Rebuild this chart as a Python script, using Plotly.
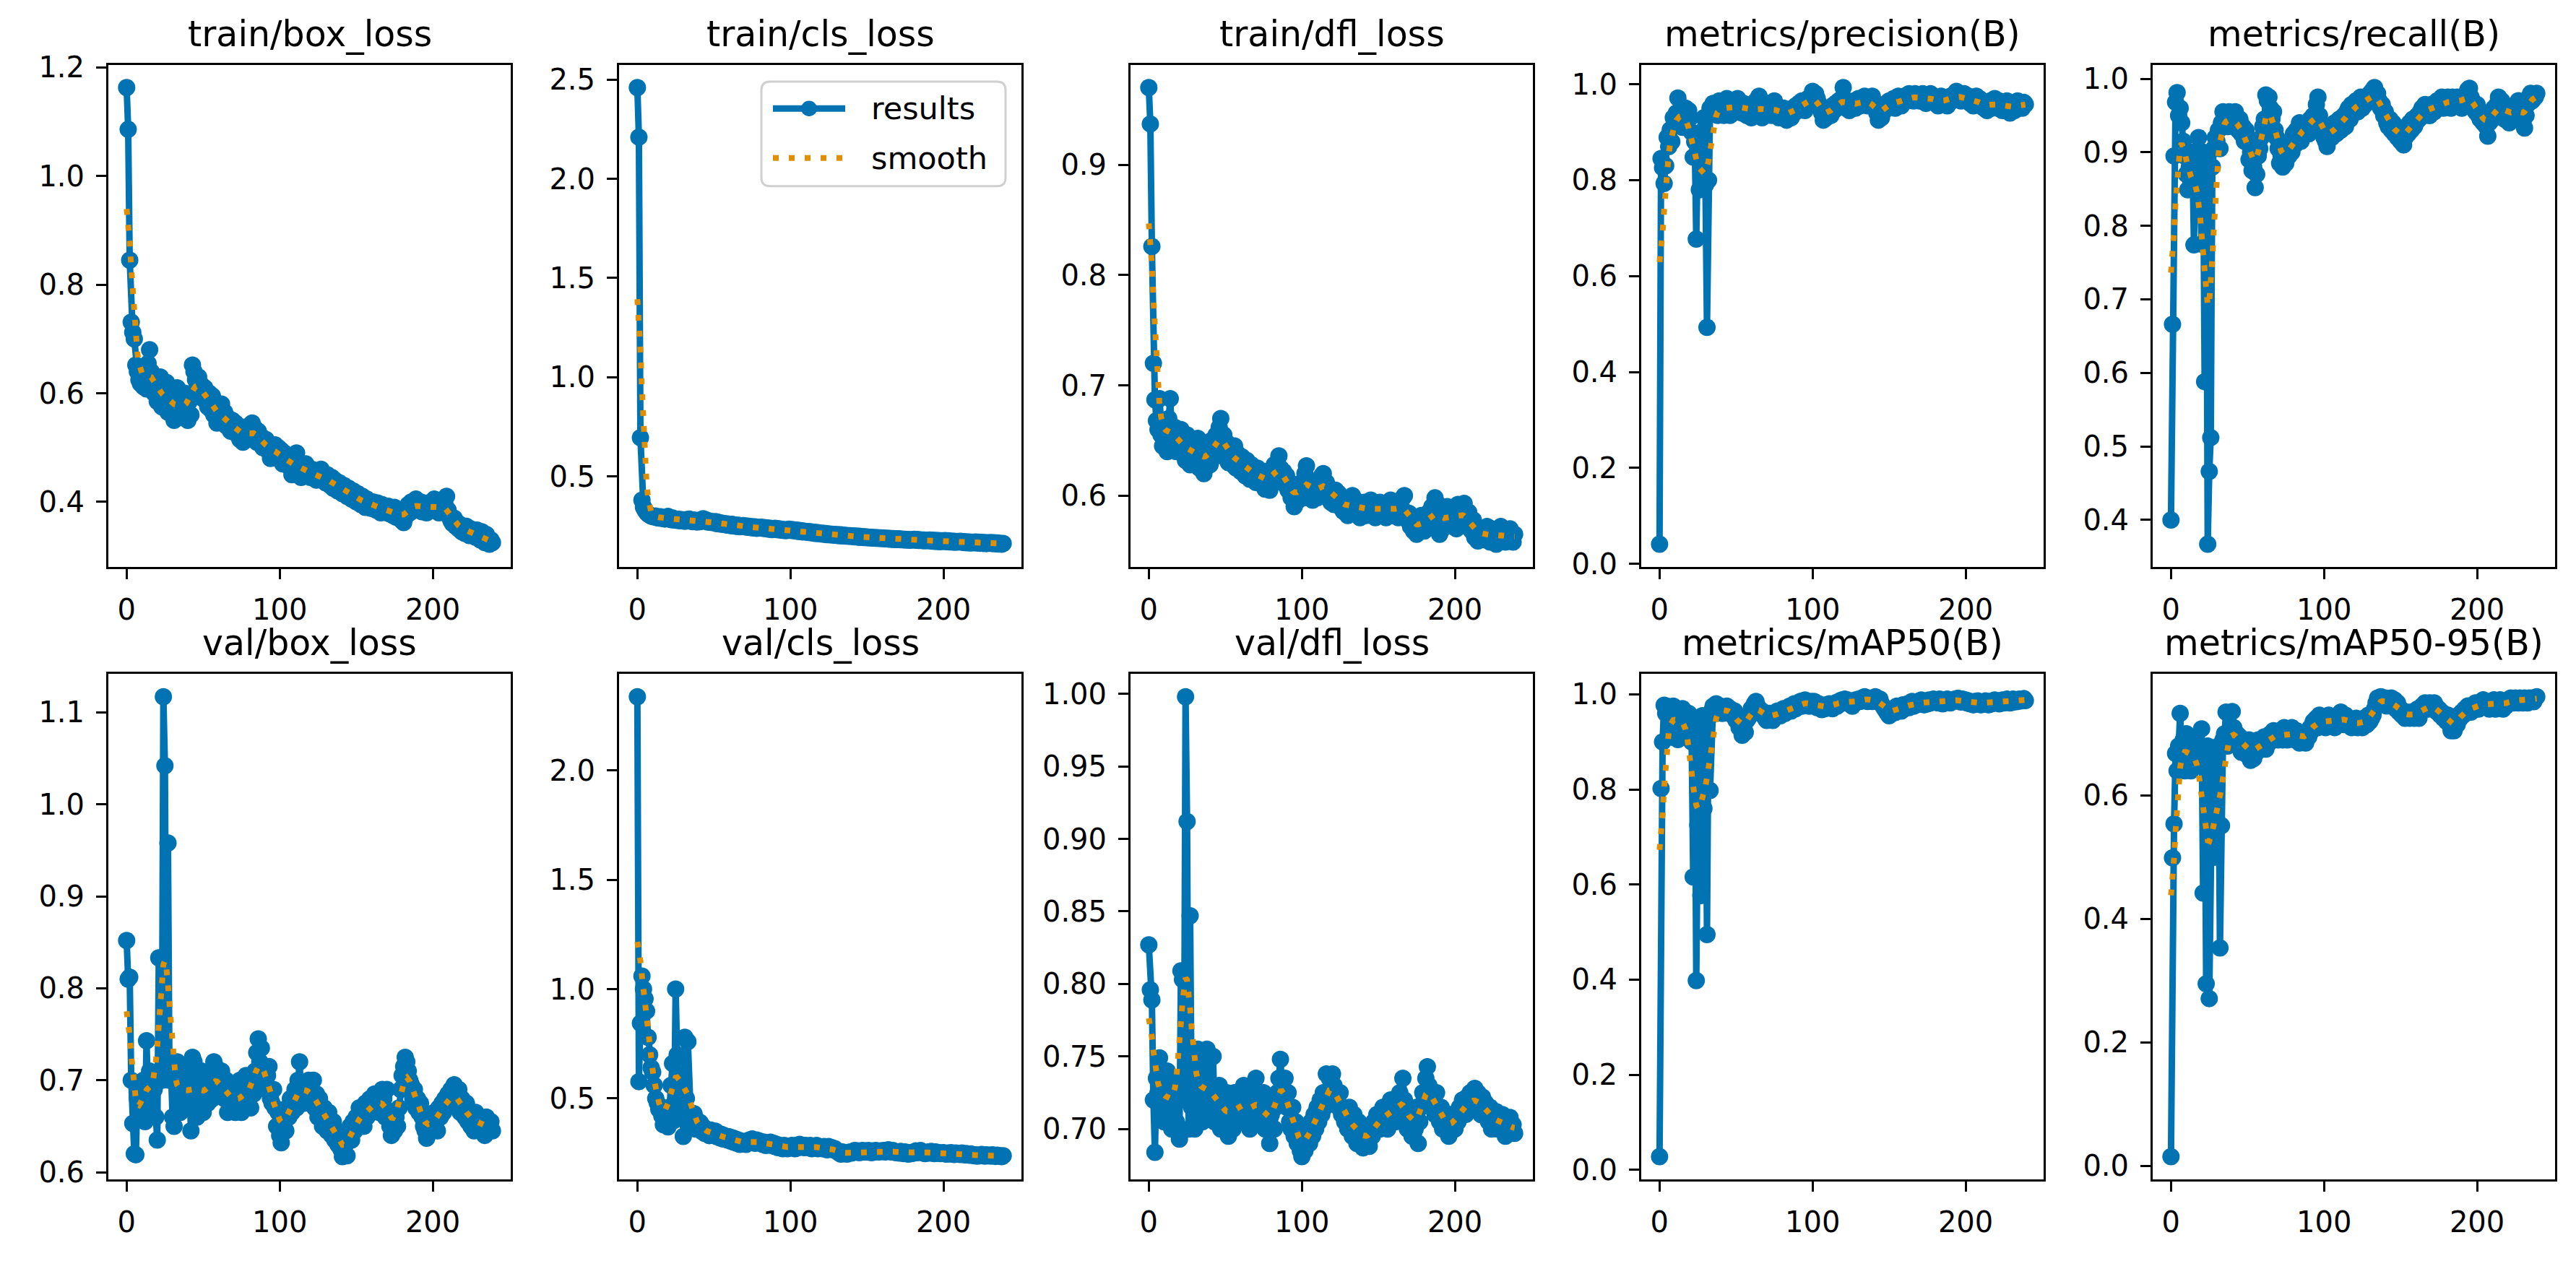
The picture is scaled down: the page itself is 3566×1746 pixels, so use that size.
import numpy as np
import plotly.graph_objects as go

# epochs on the x axis
epochs = list(range(240))

titles = [
    "train/box_loss", "train/cls_loss", "train/dfl_loss", "metrics/precision(B)", "metrics/recall(B)",
    "val/box_loss", "val/cls_loss", "val/dfl_loss", "metrics/mAP50(B)", "metrics/mAP50-95(B)",
]

train_box_loss = [
    1.163, 1.086, 0.845, 0.731, 0.712, 0.700, 0.652, 0.640, 0.625, 0.618,
    0.640, 0.612, 0.632, 0.608, 0.655, 0.680, 0.640, 0.625, 0.600, 0.620,
    0.585, 0.610, 0.630, 0.575, 0.600, 0.580, 0.620, 0.565, 0.605, 0.590,
    0.560, 0.550, 0.585, 0.610, 0.575, 0.565, 0.590, 0.555, 0.600, 0.572,
    0.550, 0.585, 0.560, 0.652, 0.640, 0.625, 0.610, 0.630, 0.600, 0.615,
    0.590, 0.610, 0.585, 0.575, 0.600, 0.570, 0.595, 0.560, 0.575, 0.545,
    0.570, 0.548, 0.580, 0.555, 0.565, 0.540, 0.555, 0.545, 0.530, 0.550,
    0.535, 0.545, 0.525, 0.540, 0.515, 0.530, 0.510, 0.525, 0.535, 0.515,
    0.540, 0.525, 0.545, 0.520, 0.535, 0.510, 0.530, 0.515, 0.520, 0.500,
    0.505, 0.515, 0.495, 0.505, 0.480, 0.500, 0.490, 0.505, 0.485, 0.500,
    0.480, 0.495, 0.470, 0.490, 0.470, 0.485, 0.465, 0.480, 0.450, 0.475,
    0.460, 0.490, 0.465, 0.470, 0.445, 0.465, 0.455, 0.470, 0.450, 0.460,
    0.445, 0.460, 0.450, 0.455, 0.440, 0.455, 0.445, 0.460, 0.440, 0.450,
    0.435, 0.450, 0.440, 0.430, 0.445, 0.425, 0.440, 0.430, 0.420, 0.435,
    0.425, 0.415, 0.430, 0.420, 0.410, 0.425, 0.415, 0.405, 0.420, 0.410,
    0.400, 0.415, 0.405, 0.395, 0.410, 0.400, 0.390, 0.405, 0.395, 0.400,
    0.388, 0.400, 0.392, 0.385, 0.398, 0.390, 0.380, 0.395, 0.385, 0.392,
    0.380, 0.392, 0.378, 0.385, 0.375, 0.390, 0.372, 0.385, 0.370, 0.380,
    0.365, 0.362, 0.372, 0.385, 0.395, 0.380, 0.400, 0.392, 0.385, 0.405,
    0.395, 0.388, 0.400, 0.382, 0.398, 0.390, 0.380, 0.395, 0.385, 0.400,
    0.390, 0.405, 0.385, 0.395, 0.380, 0.392, 0.385, 0.400, 0.395, 0.410,
    0.385, 0.372, 0.365, 0.360, 0.370, 0.355, 0.362, 0.350, 0.358, 0.345,
    0.352, 0.342, 0.355, 0.345, 0.338, 0.350, 0.340, 0.345, 0.335, 0.348,
    0.338, 0.330, 0.345, 0.335, 0.325, 0.340, 0.328, 0.322, 0.330, 0.325,
]

train_cls_loss = [
    2.460, 2.210, 0.695, 0.380, 0.345, 0.330, 0.318, 0.310, 0.305, 0.300,
    0.298, 0.295, 0.300, 0.292, 0.290, 0.296, 0.288, 0.292, 0.285, 0.290,
    0.298, 0.286, 0.282, 0.290, 0.280, 0.285, 0.278, 0.284, 0.276, 0.282,
    0.280, 0.274, 0.282, 0.276, 0.285, 0.278, 0.272, 0.280, 0.275, 0.270,
    0.278, 0.272, 0.282, 0.286, 0.276, 0.280, 0.270, 0.275, 0.268, 0.272,
    0.266, 0.272, 0.262, 0.268, 0.260, 0.265, 0.258, 0.262, 0.255, 0.260,
    0.256, 0.252, 0.258, 0.250, 0.255, 0.248, 0.254, 0.246, 0.250, 0.252,
    0.246, 0.250, 0.244, 0.248, 0.242, 0.246, 0.240, 0.245, 0.238, 0.243,
    0.240, 0.244, 0.238, 0.242, 0.236, 0.240, 0.234, 0.238, 0.232, 0.236,
    0.238, 0.232, 0.236, 0.230, 0.234, 0.228, 0.232, 0.226, 0.230, 0.234,
    0.228, 0.232, 0.226, 0.230, 0.224, 0.228, 0.222, 0.226, 0.220, 0.224,
    0.222, 0.218, 0.222, 0.216, 0.220, 0.214, 0.218, 0.212, 0.216, 0.213,
    0.210, 0.214, 0.208, 0.212, 0.206, 0.210, 0.205, 0.208, 0.204, 0.207,
    0.203, 0.206, 0.201, 0.205, 0.200, 0.204, 0.199, 0.202, 0.198, 0.201,
    0.197, 0.200, 0.195, 0.199, 0.194, 0.198, 0.193, 0.196, 0.192, 0.195,
    0.191, 0.194, 0.190, 0.193, 0.189, 0.192, 0.188, 0.191, 0.187, 0.190,
    0.186, 0.189, 0.185, 0.188, 0.184, 0.187, 0.183, 0.186, 0.182, 0.185,
    0.182, 0.185, 0.181, 0.184, 0.180, 0.183, 0.179, 0.182, 0.178, 0.181,
    0.180, 0.183, 0.178, 0.182, 0.177, 0.180, 0.176, 0.179, 0.175, 0.178,
    0.176, 0.179, 0.174, 0.178, 0.173, 0.177, 0.172, 0.176, 0.171, 0.175,
    0.173, 0.176, 0.171, 0.175, 0.170, 0.174, 0.169, 0.173, 0.168, 0.172,
    0.170, 0.173, 0.168, 0.171, 0.166, 0.170, 0.165, 0.169, 0.164, 0.168,
    0.166, 0.169, 0.164, 0.168, 0.163, 0.167, 0.162, 0.166, 0.161, 0.165,
    0.163, 0.166, 0.161, 0.165, 0.160, 0.164, 0.159, 0.163, 0.158, 0.162,
]

train_dfl_loss = [
    0.970, 0.937, 0.826, 0.720, 0.687, 0.668, 0.660, 0.688, 0.655, 0.645,
    0.662, 0.650, 0.640, 0.670, 0.688, 0.655, 0.648, 0.662, 0.640, 0.652,
    0.645, 0.660, 0.638, 0.650, 0.632, 0.655, 0.642, 0.628, 0.648, 0.636,
    0.645, 0.630, 0.652, 0.625, 0.640, 0.635, 0.620, 0.645, 0.630, 0.642,
    0.628, 0.650, 0.640, 0.635, 0.655, 0.648, 0.662, 0.670, 0.645, 0.655,
    0.640, 0.648, 0.630, 0.642, 0.636, 0.628, 0.645, 0.625, 0.638, 0.630,
    0.622, 0.635, 0.628, 0.618, 0.632, 0.622, 0.615, 0.628, 0.618, 0.625,
    0.612, 0.625, 0.615, 0.620, 0.610, 0.622, 0.606, 0.618, 0.612, 0.605,
    0.622, 0.612, 0.628, 0.618, 0.630, 0.636, 0.625, 0.615, 0.622, 0.610,
    0.618, 0.605, 0.612, 0.598, 0.608, 0.590, 0.602, 0.595, 0.610, 0.600,
    0.612, 0.598, 0.620, 0.627, 0.615, 0.602, 0.610, 0.596, 0.605, 0.600,
    0.598, 0.612, 0.604, 0.618, 0.620, 0.608, 0.612, 0.600, 0.606, 0.594,
    0.600, 0.592, 0.605, 0.596, 0.602, 0.590, 0.598, 0.586, 0.595, 0.590,
    0.582, 0.596, 0.588, 0.600, 0.590, 0.585, 0.595, 0.588, 0.580, 0.592,
    0.586, 0.594, 0.582, 0.590, 0.584, 0.596, 0.586, 0.590, 0.580, 0.592,
    0.585, 0.594, 0.582, 0.590, 0.586, 0.580, 0.592, 0.584, 0.596, 0.588,
    0.582, 0.592, 0.586, 0.580, 0.594, 0.588, 0.598, 0.600, 0.585, 0.578,
    0.584, 0.572, 0.580, 0.568, 0.578, 0.565, 0.575, 0.570, 0.582, 0.574,
    0.568, 0.580, 0.572, 0.585, 0.575, 0.590, 0.580, 0.598, 0.585, 0.592,
    0.565, 0.578, 0.570, 0.585, 0.576, 0.590, 0.582, 0.575, 0.588, 0.572,
    0.585, 0.570, 0.592, 0.578, 0.588, 0.582, 0.593, 0.580, 0.572, 0.585,
    0.575, 0.568, 0.578, 0.562, 0.572, 0.559, 0.568, 0.562, 0.570, 0.565,
    0.560, 0.572, 0.564, 0.558, 0.570, 0.562, 0.567, 0.556, 0.566, 0.560,
    0.572, 0.562, 0.568, 0.558, 0.566, 0.560, 0.570, 0.562, 0.558, 0.565,
]

precision = [
    0.041, 0.845, 0.826, 0.793, 0.830, 0.889, 0.870, 0.905, 0.880, 0.930,
    0.915, 0.940, 0.971, 0.925, 0.945, 0.910, 0.935, 0.950, 0.920, 0.945,
    0.930, 0.900, 0.848, 0.880, 0.677, 0.860, 0.780, 0.900, 0.820, 0.930,
    0.790, 0.493, 0.800, 0.950, 0.945, 0.960, 0.940, 0.955, 0.935, 0.965,
    0.945, 0.950, 0.935, 0.960, 0.970, 0.945, 0.935, 0.955, 0.940, 0.950,
    0.965, 0.970, 0.945, 0.955, 0.940, 0.960, 0.950, 0.935, 0.955, 0.945,
    0.930, 0.950, 0.940, 0.965, 0.935, 0.975, 0.945, 0.930, 0.955, 0.940,
    0.950, 0.960, 0.945, 0.935, 0.955, 0.965, 0.940, 0.950, 0.930, 0.945,
    0.935, 0.950, 0.940, 0.925, 0.945, 0.935, 0.930, 0.950, 0.940, 0.955,
    0.945, 0.960, 0.950, 0.965, 0.955, 0.945, 0.960, 0.970, 0.965, 0.975,
    0.985, 0.975, 0.980, 0.970, 0.960, 0.950, 0.940, 0.925, 0.935, 0.930,
    0.940, 0.950, 0.935, 0.955, 0.945, 0.960, 0.950, 0.965, 0.955, 0.970,
    0.993, 0.960, 0.950, 0.965, 0.945, 0.960, 0.955, 0.965, 0.950, 0.960,
    0.970, 0.955, 0.965, 0.960, 0.975, 0.965, 0.955, 0.970, 0.960, 0.975,
    0.960, 0.950, 0.940, 0.925, 0.935, 0.930, 0.950, 0.945, 0.960, 0.955,
    0.965, 0.955, 0.960, 0.970, 0.950, 0.965, 0.975, 0.960, 0.955, 0.965,
    0.975, 0.965, 0.970, 0.980, 0.970, 0.975, 0.965, 0.980, 0.970, 0.975,
    0.965, 0.975, 0.980, 0.970, 0.960, 0.975, 0.970, 0.980, 0.965, 0.975,
    0.960, 0.970, 0.955, 0.965, 0.975, 0.960, 0.970, 0.965, 0.955, 0.970,
    0.975, 0.965, 0.970, 0.980, 0.985, 0.975, 0.970, 0.965, 0.975, 0.980,
    0.970, 0.965, 0.975, 0.960, 0.970, 0.955, 0.965, 0.975, 0.960, 0.970,
    0.955, 0.965, 0.950, 0.960, 0.945, 0.955, 0.965, 0.950, 0.960, 0.970,
    0.960, 0.950, 0.965, 0.955, 0.945, 0.960, 0.950, 0.965, 0.955, 0.940,
    0.950, 0.960, 0.945, 0.955, 0.965, 0.955, 0.960, 0.950, 0.962, 0.958,
]

recall = [
    0.400, 0.666, 0.895, 0.968, 0.981, 0.950, 0.960, 0.940, 0.915, 0.895,
    0.870, 0.849, 0.880, 0.860, 0.900, 0.774, 0.885, 0.850, 0.920, 0.870,
    0.775, 0.900, 0.588, 0.897, 0.367, 0.466, 0.512, 0.880, 0.905, 0.920,
    0.915, 0.930, 0.905, 0.940, 0.955, 0.945, 0.950, 0.935, 0.955, 0.940,
    0.950, 0.935, 0.955, 0.940, 0.930, 0.945, 0.925, 0.935, 0.915, 0.930,
    0.920, 0.890, 0.900, 0.875, 0.880, 0.852, 0.870, 0.895, 0.905, 0.920,
    0.935, 0.945, 0.978, 0.970, 0.975, 0.960, 0.945, 0.955, 0.930, 0.920,
    0.905, 0.885, 0.895, 0.880, 0.900, 0.885, 0.905, 0.895, 0.915, 0.900,
    0.925, 0.910, 0.930, 0.920, 0.940, 0.915, 0.935, 0.925, 0.930, 0.940,
    0.925, 0.945, 0.935, 0.950, 0.940, 0.965, 0.975, 0.950, 0.940, 0.930,
    0.920, 0.915, 0.908, 0.925, 0.935, 0.920, 0.930, 0.940, 0.925, 0.935,
    0.945, 0.930, 0.940, 0.950, 0.935, 0.955, 0.960, 0.945, 0.965, 0.955,
    0.960, 0.970, 0.955, 0.965, 0.975, 0.960, 0.970, 0.965, 0.975, 0.970,
    0.980, 0.975, 0.985, 0.988, 0.975, 0.980, 0.970, 0.960, 0.965, 0.950,
    0.955, 0.940, 0.935, 0.945, 0.930, 0.940, 0.925, 0.935, 0.920, 0.930,
    0.915, 0.925, 0.910, 0.920, 0.935, 0.925, 0.940, 0.930, 0.945, 0.935,
    0.940, 0.950, 0.945, 0.955, 0.960, 0.950, 0.965, 0.955, 0.960, 0.950,
    0.965, 0.960, 0.955, 0.965, 0.970, 0.960, 0.965, 0.975, 0.960, 0.970,
    0.965, 0.975, 0.970, 0.960, 0.975, 0.965, 0.970, 0.975, 0.965, 0.970,
    0.960, 0.975, 0.965, 0.980, 0.985, 0.987, 0.975, 0.970, 0.960, 0.955,
    0.965, 0.950, 0.945, 0.955, 0.940, 0.950, 0.935, 0.922, 0.940, 0.950,
    0.945, 0.960, 0.955, 0.965, 0.975, 0.960, 0.970, 0.955, 0.945, 0.960,
    0.950, 0.940, 0.955, 0.960, 0.950, 0.965, 0.955, 0.970, 0.960, 0.945,
    0.940, 0.933, 0.950, 0.965, 0.975, 0.980, 0.970, 0.978, 0.975, 0.980,
]

val_box_loss = [
    0.852, 0.810, 0.812, 0.700, 0.653, 0.620, 0.619, 0.680, 0.662, 0.690,
    0.670, 0.700, 0.655, 0.743, 0.680, 0.710, 0.670, 0.700, 0.690, 0.660,
    0.635, 0.833, 0.700, 0.700, 1.117, 1.042, 0.715, 0.958, 0.700, 0.710,
    0.660, 0.650, 0.700, 0.720, 0.690, 0.665, 0.700, 0.680, 0.710, 0.690,
    0.670, 0.700, 0.645, 0.725, 0.720, 0.690, 0.660, 0.700, 0.680, 0.710,
    0.665, 0.690, 0.700, 0.675, 0.690, 0.710, 0.680, 0.720, 0.715, 0.690,
    0.700, 0.685, 0.710, 0.695, 0.680, 0.700, 0.665, 0.685, 0.690, 0.670,
    0.680, 0.665, 0.690, 0.670, 0.700, 0.665, 0.685, 0.675, 0.705, 0.680,
    0.690, 0.670, 0.700, 0.685, 0.710, 0.730, 0.745, 0.720, 0.735, 0.700,
    0.710, 0.690, 0.705, 0.715, 0.680, 0.675, 0.690, 0.670, 0.650, 0.665,
    0.640, 0.632, 0.655, 0.660, 0.645, 0.670, 0.660, 0.680, 0.665, 0.675,
    0.690, 0.670, 0.700, 0.720, 0.685, 0.690, 0.675, 0.695, 0.680, 0.700,
    0.690, 0.680, 0.700, 0.670, 0.685, 0.660, 0.680, 0.665, 0.650, 0.670,
    0.660, 0.645, 0.665, 0.650, 0.640, 0.655, 0.635, 0.645, 0.630, 0.640,
    0.625, 0.617, 0.620, 0.630, 0.618, 0.640, 0.650, 0.635, 0.655, 0.645,
    0.660, 0.650, 0.670, 0.655, 0.665, 0.650, 0.675, 0.660, 0.670, 0.680,
    0.665, 0.675, 0.685, 0.670, 0.680, 0.665, 0.675, 0.690, 0.680, 0.660,
    0.690, 0.665, 0.650, 0.640, 0.655, 0.645, 0.660, 0.650, 0.670, 0.690,
    0.705, 0.715, 0.725, 0.720, 0.710, 0.700, 0.695, 0.680, 0.690, 0.670,
    0.680, 0.665, 0.675, 0.660, 0.650, 0.645, 0.637, 0.655, 0.645, 0.660,
    0.650, 0.665, 0.655, 0.645, 0.670, 0.660, 0.675, 0.665, 0.680, 0.670,
    0.685, 0.675, 0.690, 0.680, 0.695, 0.685, 0.675, 0.690, 0.665, 0.680,
    0.670, 0.660, 0.675, 0.655, 0.665, 0.650, 0.660, 0.645, 0.665, 0.655,
    0.660, 0.645, 0.655, 0.650, 0.640, 0.660, 0.650, 0.645, 0.655, 0.645,
]

val_cls_loss = [
    2.338, 0.577, 0.844, 1.060, 1.000, 0.956, 0.900, 0.780, 0.700, 0.640,
    0.620, 0.560, 0.500, 0.480, 0.450, 0.460, 0.420, 0.380, 0.440, 0.400,
    0.370, 0.460, 0.560, 0.660, 0.400, 1.000, 0.700, 0.520, 0.450, 0.600,
    0.326, 0.780, 0.500, 0.760, 0.420, 0.400, 0.380, 0.430, 0.360, 0.400,
    0.380, 0.390, 0.350, 0.370, 0.340, 0.360, 0.345, 0.330, 0.355, 0.340,
    0.330, 0.350, 0.325, 0.340, 0.320, 0.335, 0.315, 0.330, 0.320, 0.310,
    0.325, 0.305, 0.320, 0.300, 0.315, 0.295, 0.310, 0.290, 0.305, 0.295,
    0.300, 0.290, 0.305, 0.310, 0.300, 0.315, 0.305, 0.295, 0.310, 0.300,
    0.305, 0.295, 0.290, 0.300, 0.285, 0.295, 0.290, 0.300, 0.285, 0.295,
    0.280, 0.290, 0.275, 0.285, 0.280, 0.270, 0.285, 0.275, 0.270, 0.280,
    0.275, 0.285, 0.280, 0.270, 0.285, 0.275, 0.290, 0.280, 0.285, 0.275,
    0.285, 0.280, 0.275, 0.285, 0.270, 0.280, 0.275, 0.285, 0.270, 0.280,
    0.275, 0.270, 0.280, 0.275, 0.265, 0.280, 0.270, 0.275, 0.265, 0.270,
    0.260, 0.255, 0.250, 0.245, 0.255, 0.248, 0.252, 0.245, 0.250, 0.255,
    0.250, 0.258, 0.262, 0.255, 0.260, 0.252, 0.258, 0.262, 0.255, 0.260,
    0.255, 0.262, 0.258, 0.252, 0.260, 0.255, 0.262, 0.258, 0.255, 0.260,
    0.258, 0.262, 0.255, 0.260, 0.265, 0.258, 0.255, 0.262, 0.258, 0.252,
    0.255, 0.250, 0.258, 0.252, 0.248, 0.255, 0.250, 0.245, 0.252, 0.248,
    0.250, 0.255, 0.260, 0.252, 0.258, 0.262, 0.255, 0.250, 0.248, 0.252,
    0.255, 0.250, 0.258, 0.252, 0.248, 0.255, 0.250, 0.252, 0.248, 0.250,
    0.252, 0.248, 0.245, 0.250, 0.246, 0.252, 0.248, 0.244, 0.250, 0.246,
    0.248, 0.244, 0.250, 0.246, 0.242, 0.248, 0.244, 0.240, 0.246, 0.242,
    0.238, 0.242, 0.236, 0.240, 0.238, 0.244, 0.240, 0.236, 0.242, 0.238,
    0.240, 0.236, 0.242, 0.238, 0.235, 0.240, 0.236, 0.238, 0.234, 0.238,
]

val_dfl_loss = [
    0.827, 0.796, 0.789, 0.720, 0.684, 0.735, 0.725, 0.749, 0.715, 0.730,
    0.705, 0.725, 0.740, 0.710, 0.730, 0.700, 0.720, 0.735, 0.705, 0.725,
    0.693, 0.809, 0.803, 0.720, 0.998, 0.912, 0.700, 0.847, 0.715, 0.740,
    0.700, 0.730, 0.755, 0.715, 0.745, 0.705, 0.735, 0.720, 0.755, 0.710,
    0.730, 0.715, 0.750, 0.705, 0.725, 0.710, 0.730, 0.700, 0.720, 0.715,
    0.705, 0.725, 0.695, 0.720, 0.710, 0.700, 0.725, 0.715, 0.705, 0.720,
    0.725, 0.710, 0.730, 0.715, 0.705, 0.720, 0.700, 0.715, 0.710, 0.725,
    0.735, 0.715, 0.705, 0.720, 0.710, 0.725, 0.700, 0.715, 0.705, 0.690,
    0.710, 0.720, 0.700, 0.715, 0.725, 0.735, 0.748, 0.730, 0.720, 0.735,
    0.715, 0.725, 0.705, 0.700, 0.715, 0.695, 0.705, 0.690, 0.700, 0.685,
    0.681, 0.690, 0.685, 0.695, 0.700, 0.690, 0.705, 0.695, 0.710, 0.700,
    0.715, 0.705, 0.720, 0.710, 0.725, 0.715, 0.738, 0.725, 0.735, 0.720,
    0.738, 0.730, 0.725, 0.720, 0.715, 0.725, 0.710, 0.715, 0.705, 0.710,
    0.700, 0.715, 0.705, 0.695, 0.710, 0.700, 0.690, 0.705, 0.695, 0.700,
    0.687, 0.695, 0.700, 0.690, 0.688, 0.700, 0.695, 0.705, 0.700, 0.710,
    0.705, 0.700, 0.710, 0.715, 0.705, 0.710, 0.700, 0.715, 0.720, 0.710,
    0.715, 0.705, 0.720, 0.710, 0.725, 0.715, 0.735, 0.720, 0.710, 0.700,
    0.715, 0.705, 0.695, 0.710, 0.700, 0.715, 0.690, 0.705, 0.715, 0.725,
    0.720, 0.735, 0.743, 0.730, 0.725, 0.715, 0.720, 0.710, 0.725, 0.715,
    0.705, 0.715, 0.700, 0.710, 0.705, 0.700, 0.695, 0.710, 0.700, 0.705,
    0.700, 0.710, 0.705, 0.715, 0.710, 0.720, 0.715, 0.710, 0.722, 0.715,
    0.725, 0.715, 0.720, 0.728, 0.715, 0.725, 0.720, 0.710, 0.722, 0.712,
    0.718, 0.710, 0.705, 0.715, 0.700, 0.710, 0.705, 0.712, 0.700, 0.708,
    0.700, 0.710, 0.705, 0.695, 0.705, 0.700, 0.708, 0.698, 0.703, 0.697,
]

map50 = [
    0.028, 0.802, 0.900, 0.977, 0.960, 0.975, 0.930, 0.965, 0.910, 0.975,
    0.950, 0.965, 0.905, 0.960, 0.940, 0.970, 0.920, 0.955, 0.935, 0.960,
    0.945, 0.900, 0.616, 0.950, 0.398, 0.725, 0.940, 0.577, 0.955, 0.760,
    0.930, 0.495, 0.950, 0.798, 0.965, 0.975, 0.960, 0.980, 0.970, 0.965,
    0.975, 0.960, 0.970, 0.965, 0.975, 0.965, 0.970, 0.960, 0.955, 0.965,
    0.945, 0.955, 0.930, 0.940, 0.914, 0.925, 0.920, 0.945, 0.950, 0.960,
    0.970, 0.965, 0.980, 0.985, 0.975, 0.970, 0.960, 0.965, 0.955, 0.950,
    0.945, 0.955, 0.960, 0.950, 0.945, 0.960, 0.955, 0.965, 0.960, 0.955,
    0.965, 0.970, 0.960, 0.965, 0.970, 0.975, 0.965, 0.975, 0.980, 0.970,
    0.975, 0.980, 0.985, 0.975, 0.980, 0.988, 0.985, 0.980, 0.975, 0.985,
    0.980, 0.985, 0.978, 0.972, 0.980, 0.975, 0.968, 0.975, 0.970, 0.978,
    0.972, 0.980, 0.975, 0.970, 0.978, 0.982, 0.975, 0.985, 0.980, 0.988,
    0.985, 0.990, 0.982, 0.988, 0.980, 0.985, 0.975, 0.982, 0.988, 0.985,
    0.990, 0.985, 0.992, 0.988, 0.995, 0.990, 0.985, 0.992, 0.988, 0.985,
    0.990, 0.995, 0.988, 0.985, 0.990, 0.980, 0.975, 0.970, 0.965, 0.960,
    0.955, 0.965, 0.960, 0.970, 0.962, 0.975, 0.968, 0.972, 0.965, 0.978,
    0.970, 0.975, 0.980, 0.972, 0.978, 0.985, 0.975, 0.982, 0.978, 0.985,
    0.980, 0.988, 0.982, 0.978, 0.985, 0.980, 0.988, 0.982, 0.985, 0.990,
    0.985, 0.988, 0.982, 0.990, 0.985, 0.980, 0.988, 0.984, 0.990, 0.986,
    0.982, 0.988, 0.985, 0.990, 0.987, 0.992, 0.988, 0.984, 0.990, 0.985,
    0.988, 0.982, 0.986, 0.980, 0.984, 0.978, 0.985, 0.980, 0.986, 0.982,
    0.978, 0.984, 0.980, 0.986, 0.982, 0.978, 0.985, 0.980, 0.984, 0.988,
    0.982, 0.986, 0.980, 0.984, 0.988, 0.982, 0.986, 0.990, 0.985, 0.982,
    0.986, 0.990, 0.984, 0.988, 0.985, 0.990, 0.986, 0.988, 0.991, 0.987,
]

map50_95 = [
    0.015, 0.499, 0.554, 0.668, 0.640, 0.680, 0.733, 0.660, 0.690, 0.640,
    0.700, 0.650, 0.685, 0.640, 0.675, 0.660, 0.690, 0.650, 0.680, 0.655,
    0.708, 0.442, 0.660, 0.295, 0.680, 0.271, 0.530, 0.650, 0.500, 0.675,
    0.560, 0.680, 0.353, 0.551, 0.690, 0.700, 0.735, 0.680, 0.700, 0.685,
    0.736, 0.710, 0.690, 0.700, 0.680, 0.695, 0.670, 0.690, 0.675, 0.680,
    0.665, 0.690, 0.657, 0.672, 0.660, 0.680, 0.670, 0.690, 0.675, 0.685,
    0.680, 0.695, 0.675, 0.690, 0.685, 0.700, 0.690, 0.705, 0.695, 0.700,
    0.690, 0.705, 0.695, 0.690, 0.710, 0.700, 0.690, 0.705, 0.695, 0.710,
    0.700, 0.690, 0.705, 0.695, 0.685, 0.700, 0.690, 0.695, 0.685, 0.700,
    0.695, 0.710, 0.705, 0.720, 0.715, 0.725, 0.710, 0.730, 0.720, 0.715,
    0.725, 0.710, 0.720, 0.730, 0.715, 0.725, 0.720, 0.710, 0.725, 0.730,
    0.720, 0.735, 0.725, 0.715, 0.730, 0.720, 0.725, 0.715, 0.710, 0.720,
    0.715, 0.725, 0.710, 0.720, 0.715, 0.710, 0.725, 0.720, 0.715, 0.730,
    0.720, 0.725, 0.730, 0.740, 0.750, 0.758, 0.755, 0.760, 0.750, 0.755,
    0.758, 0.745, 0.755, 0.750, 0.758, 0.745, 0.755, 0.740, 0.750, 0.735,
    0.740, 0.730, 0.735, 0.725, 0.735, 0.730, 0.725, 0.735, 0.730, 0.725,
    0.730, 0.740, 0.725, 0.735, 0.745, 0.740, 0.750, 0.745, 0.740, 0.750,
    0.745, 0.740, 0.750, 0.745, 0.735, 0.740, 0.730, 0.735, 0.725, 0.730,
    0.720, 0.730, 0.715, 0.705, 0.710, 0.705, 0.720, 0.715, 0.730, 0.725,
    0.735, 0.730, 0.740, 0.735, 0.745, 0.740, 0.735, 0.745, 0.740, 0.750,
    0.745, 0.740, 0.750, 0.745, 0.755, 0.750, 0.745, 0.750, 0.740, 0.750,
    0.745, 0.755, 0.740, 0.750, 0.745, 0.755, 0.745, 0.740, 0.750, 0.745,
    0.755, 0.750, 0.758, 0.755, 0.750, 0.758, 0.755, 0.750, 0.758, 0.755,
    0.750, 0.758, 0.755, 0.750, 0.758, 0.755, 0.758, 0.752, 0.758, 0.760,
]

series = [
    train_box_loss, train_cls_loss, train_dfl_loss, precision, recall,
    val_box_loss, val_cls_loss, val_dfl_loss, map50, map50_95,
]

legend_labels = ["results", "smooth"]

# tick step / label format of each y axis, as matplotlib picked them
y_dticks = [0.2, 0.5, 0.1, 0.2, 0.1, 0.1, 0.5, 0.05, 0.2, 0.2]
y_formats = [".1f"] * 7 + [".2f", ".1f", ".1f"]

BLUE = "#0173B2"
ORANGE = "#DE8F05"
FONT = "DejaVu Sans"
W, H = 3566, 1746
DOTS = "8px,14px"


def gaussian_smooth(values, sigma=3.0):
    """
    Same smoothing as scipy.ndimage.gaussian_filter1d (mode reflect, truncate 4).
    """
    y = np.asarray(values, dtype=float)
    radius = int(4.0 * sigma + 0.5)
    offsets = np.arange(-radius, radius + 1)
    kernel = np.exp(-0.5 * (offsets / sigma) ** 2)
    kernel /= kernel.sum()
    padded = np.pad(y, radius, mode="symmetric")
    return np.convolve(padded, kernel, mode="valid")


def px(x, y):
    """Pixel position (from top-left) to paper coordinates."""
    return x / W, 1 - y / H


def rounded_box(x0, y0, x1, y1, r):
    """SVG path of a rounded rectangle in paper coordinates."""
    rx, ry = r / W, r / H
    (a, b), (c, d) = px(x0, y0), px(x1, y1)
    return (
        f"M{a + rx},{b} L{c - rx},{b} Q{c},{b} {c},{b - ry} "
        f"L{c},{d + ry} Q{c},{d} {c - rx},{d} "
        f"L{a + rx},{d} Q{a},{d} {a},{d + ry} "
        f"L{a},{b - ry} Q{a},{b} {a + rx},{b} Z"
    )


# axes boxes in pixels (left, top, bottom) for the 2 x 5 grid
lefts = [142, 849, 1557, 2264, 2972]
box_w = 557
rows_px = [(64, 775), (926, 1642)]

fig = go.Figure()
axis_style = dict(
    showline=True, linecolor="black", linewidth=3, mirror=True,
    ticks="outside", ticklen=14, tickwidth=3, tickcolor="black",
    ticklabelstandoff=8, showgrid=False, zeroline=False,
    tickfont=dict(family=FONT, size=40, color="black"),
)

x_arr = np.asarray(epochs, dtype=float)
x_pad = 0.05 * (x_arr.max() - x_arr.min())

for i, (title, values) in enumerate(zip(titles, series)):
    row, col = divmod(i, 5)
    n = i + 1
    xa = "x" if n == 1 else f"x{n}"
    ya = "y" if n == 1 else f"y{n}"
    smooth = gaussian_smooth(values)

    fig.add_trace(go.Scatter(
        x=epochs, y=values, mode="lines+markers", name="results",
        line=dict(color=BLUE, width=9), marker=dict(color=BLUE, size=24),
        xaxis=xa, yaxis=ya, showlegend=False,
    ))
    fig.add_trace(go.Scatter(
        x=epochs, y=smooth, mode="lines", name="smooth",
        line=dict(color=ORANGE, width=8, dash=DOTS),
        xaxis=xa, yaxis=ya, showlegend=False,
    ))

    both = np.concatenate([np.asarray(values), smooth])
    lo, hi = both.min(), both.max()
    pad = 0.05 * (hi - lo)

    left = lefts[col]
    top, bottom = rows_px[row]
    x_dom = [left / W, (left + box_w) / W]
    y_dom = [1 - bottom / H, 1 - top / H]

    fig.update_layout({
        ("xaxis" if n == 1 else f"xaxis{n}"): dict(
            axis_style, domain=x_dom, anchor=ya,
            range=[x_arr.min() - x_pad, x_arr.max() + x_pad], tick0=0, dtick=100,
        ),
        ("yaxis" if n == 1 else f"yaxis{n}"): dict(
            axis_style, domain=y_dom, anchor=xa,
            range=[lo - pad, hi + pad], tick0=0, dtick=y_dticks[i], tickformat=y_formats[i],
        ),
    })

    fig.add_annotation(
        text=title, xref="paper", yref="paper",
        x=(x_dom[0] + x_dom[1]) / 2, y=y_dom[1], xanchor="center", yanchor="bottom",
        yshift=12, showarrow=False, font=dict(family=FONT, size=49, color="black"),
    )

# legend drawn by hand inside train/cls_loss (upper right), matplotlib style
top2 = rows_px[0][0]
right2 = lefts[1] + box_w
lg_x0, lg_x1 = right2 - 360, right2 - 22
lg_y0, lg_y1 = top2 + 24, top2 + 172
fig.add_shape(
    type="path", path=rounded_box(lg_x0, lg_y0, lg_x1, lg_y1, 12),
    xref="paper", yref="paper", fillcolor="rgba(255,255,255,0.8)",
    line=dict(color="#d0d0d0", width=3), layer="above",
)
handle_x0, handle_x1 = lg_x0 + 16, lg_x0 + 116
row_ys = [top2 + 62, top2 + 132]
for label, ly in zip(legend_labels, row_ys):
    (hx0, hy), (hx1, _) = px(handle_x0, ly), px(handle_x1, ly)
    if label == "results":
        fig.add_shape(type="line", x0=hx0, x1=hx1, y0=hy, y1=hy, xref="paper", yref="paper",
                      line=dict(color=BLUE, width=9), layer="above")
        cx, cy = px((handle_x0 + handle_x1) / 2, ly)
        rx, ry = 11 / W, 11 / H
        fig.add_shape(type="circle", x0=cx - rx, x1=cx + rx, y0=cy - ry, y1=cy + ry,
                      xref="paper", yref="paper", fillcolor=BLUE, line=dict(width=0), layer="above")
    else:
        fig.add_shape(type="line", x0=hx0, x1=hx1, y0=hy, y1=hy, xref="paper", yref="paper",
                      line=dict(color=ORANGE, width=8, dash=DOTS), layer="above")
    tx, ty = px(handle_x1 + 34, ly)
    fig.add_annotation(
        text=label, xref="paper", yref="paper", x=tx, y=ty, xanchor="left", yanchor="middle",
        showarrow=False, font=dict(family=FONT, size=43, color="black"),
    )

fig.update_layout(
    width=W, height=H,
    margin=dict(l=0, r=0, t=0, b=0),
    paper_bgcolor="white", plot_bgcolor="white",
    font=dict(family=FONT, color="black"),
    showlegend=False,
)

fig.write_html("out.html")
